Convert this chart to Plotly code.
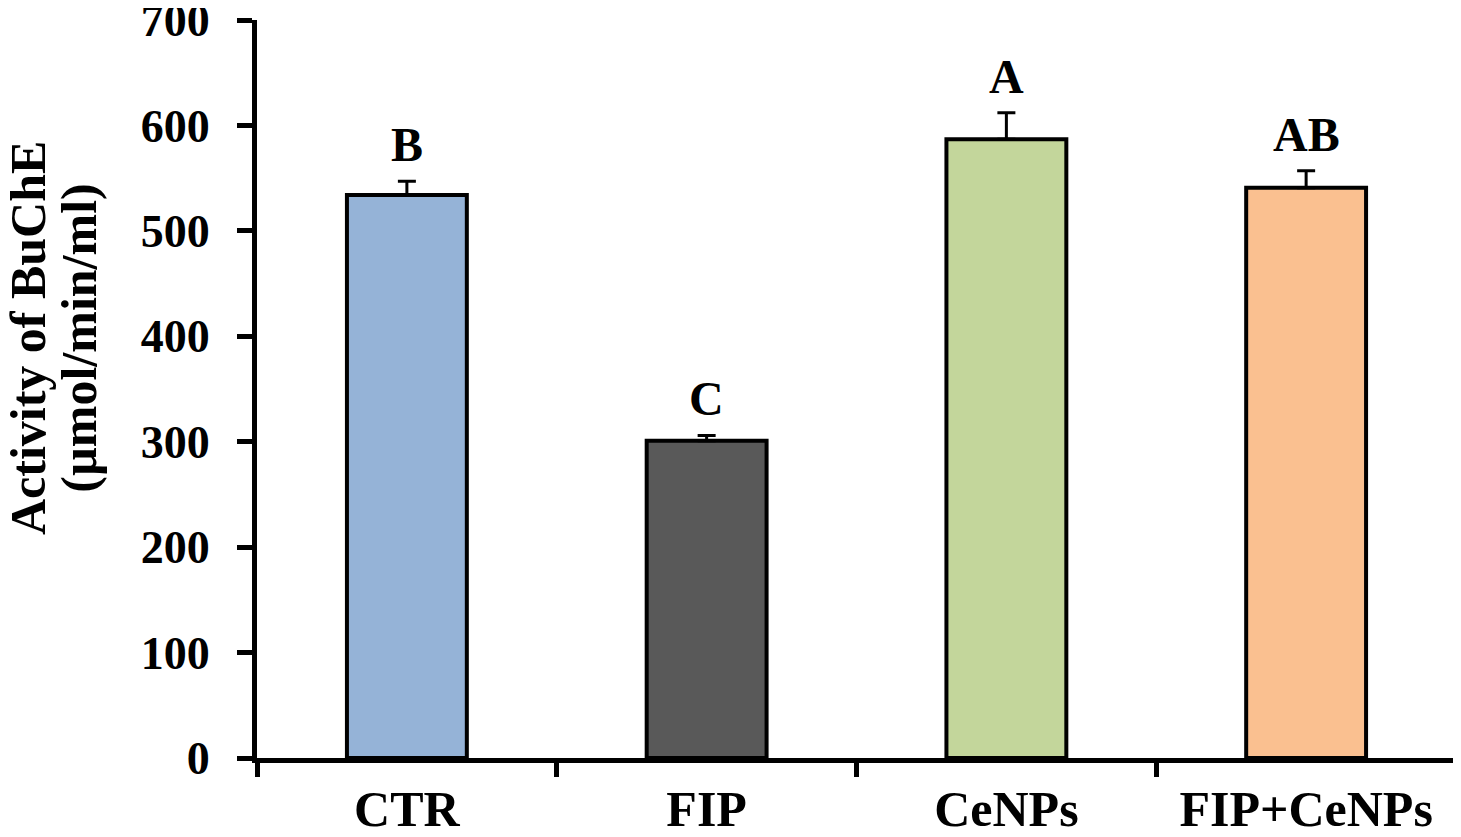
import plotly.graph_objects as go

categories = ["CTR", "FIP", "CeNPs", "FIP+CeNPs"]
means = [534, 301, 587, 541]
errors = [13, 5, 25, 16]
letters = ["B", "C", "A", "AB"]
colors = ["#95B3D7", "#595959", "#C3D69B", "#FAC090"]
y_ticks = [0, 100, 200, 300, 400, 500, 600, 700]

FONT = "Liberation Serif, Times New Roman, serif"

fig = go.Figure()
fig.add_trace(go.Bar(
    x=categories, y=means,
    width=0.4,
    marker=dict(color=colors, line=dict(color="black", width=4)),
    error_y=dict(type="data", array=errors, arrayminus=[0] * len(errors),
                 symmetric=False, color="black", thickness=3, width=9),
    showlegend=False,
))

for c, m, e, t in zip(categories, means, errors, letters):
    fig.add_annotation(x=c, y=m + e, text=t, showarrow=False,
                       yanchor="bottom", yshift=8,
                       font=dict(family=FONT, size=48, color="black", weight="bold"))

fig.add_annotation(xref="paper", yref="paper", x=-0.191, y=0.569,
                   text="Activity of BuChE", textangle=-90, showarrow=False,
                   xanchor="center", yanchor="middle",
                   font=dict(family=FONT, size=50, color="black", weight="bold"))
fig.add_annotation(xref="paper", yref="paper", x=-0.148, y=0.569,
                   text="(µmol/min/ml)", textangle=-90, showarrow=False,
                   xanchor="center", yanchor="middle",
                   font=dict(family=FONT, size=50, color="black", weight="bold"))

fig.update_layout(
    width=1453, height=829,
    margin=dict(l=249, r=5, t=12, b=79),
    paper_bgcolor="white", plot_bgcolor="white",
    bargap=0.6,
)
fig.update_xaxes(
    type="category", range=[-0.5, 3.5], automargin=False,
    showline=True, linecolor="black", linewidth=5,
    ticks="outside", tickson="boundaries", ticklen=14, tickwidth=5, tickcolor="black",
    ticklabelstandoff=3, ticklabeloverflow="allow",
    showgrid=False, zeroline=False,
    tickfont=dict(family=FONT, size=50, color="black", weight="bold"),
)
fig.update_yaxes(
    range=[0, 700], tickvals=y_ticks, automargin=False,
    showline=True, linecolor="black", linewidth=5,
    ticks="outside", ticklen=15, tickwidth=5, tickcolor="black",
    ticklabelstandoff=18, ticklabeloverflow="allow",
    showgrid=False, zeroline=False,
    tickfont=dict(family=FONT, size=46, color="black", weight="bold"),
)

fig.write_html("out.html")
